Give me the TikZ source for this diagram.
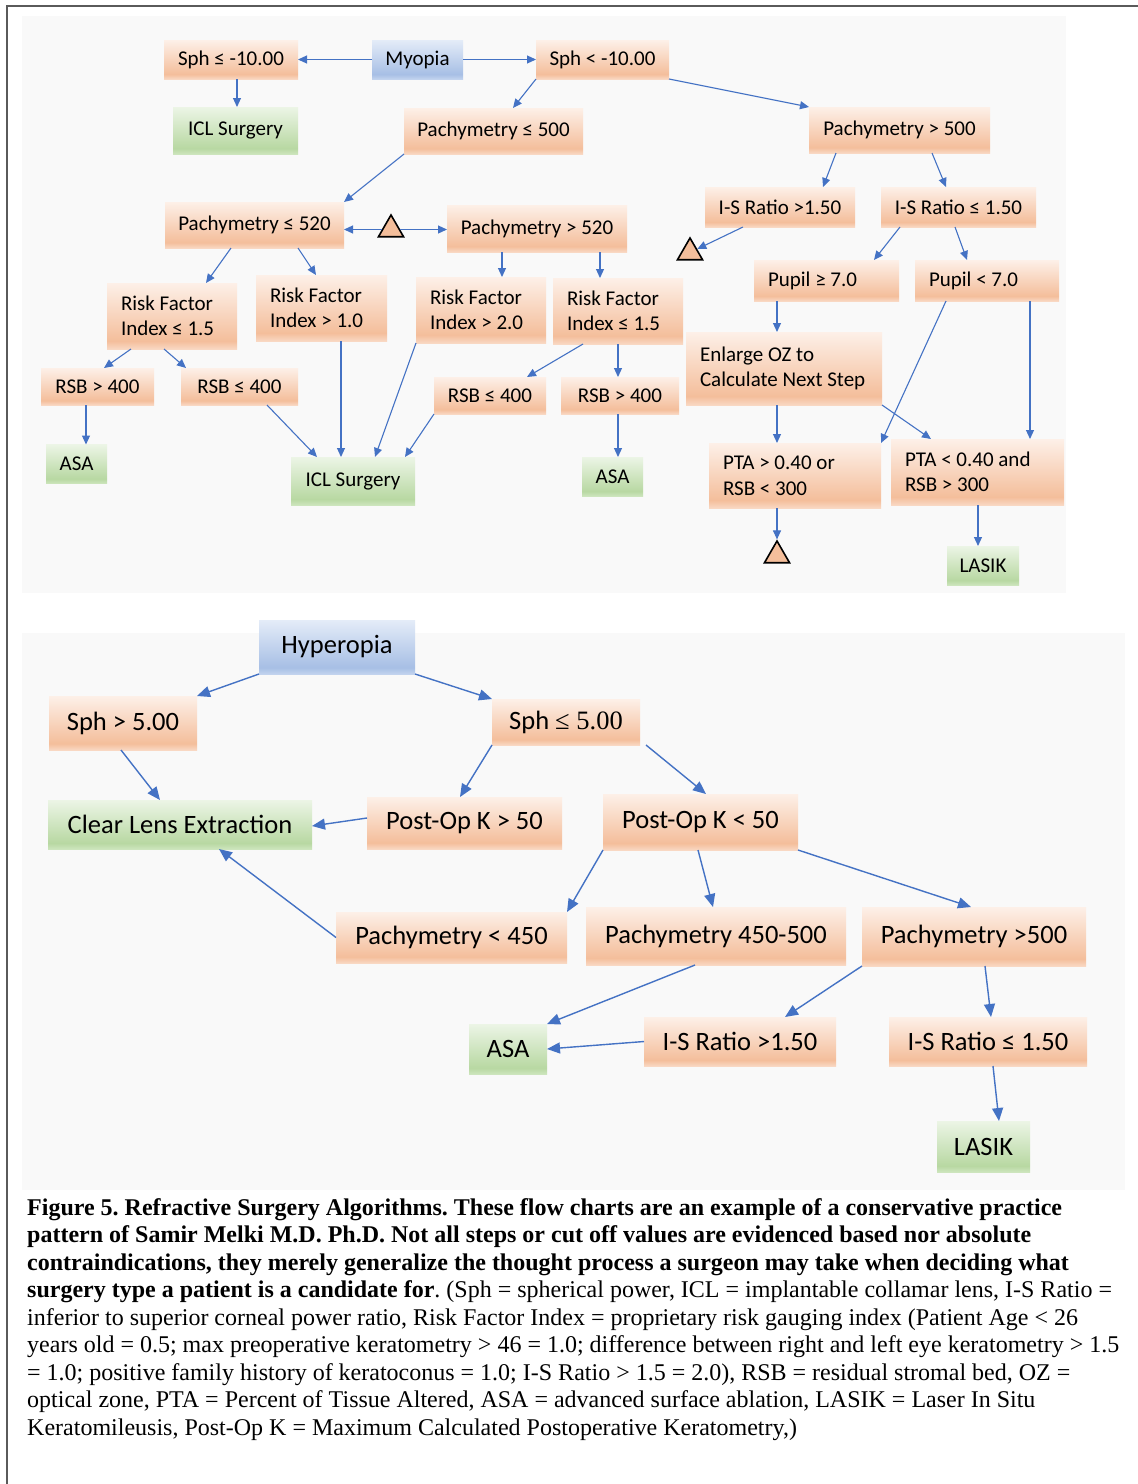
\documentclass[tikz,border=0pt]{standalone}
\usepackage{fontspec}
\setmainfont{Carlito}
\newfontfamily\capfont{Liberation Serif}
\usetikzlibrary{arrows.meta,shapes.geometric}
\newcommand\resetsp{\spaceskip=0pt\xspaceskip=0pt\relax}
\definecolor{arrowblue}{HTML}{4472C4}
\definecolor{orT}{HTML}{FDF0E8}
\definecolor{orM}{HTML}{F4BE9B}
\definecolor{orB}{HTML}{F9D8C3}
\definecolor{grT}{HTML}{ECF5E6}
\definecolor{grM}{HTML}{B8D8A2}
\definecolor{grB}{HTML}{CDE5BD}
\definecolor{blT}{HTML}{E4ECF8}
\definecolor{blM}{HTML}{A7BFE5}
\definecolor{blB}{HTML}{C2D3EE}
\definecolor{panel}{HTML}{F9F9F9}
\definecolor{framegray}{HTML}{5A5A5A}
\pgfdeclareverticalshading{orshade}{100bp}{color(0bp)=(orB); color(25bp)=(orB); color(31bp)=(orM); color(75bp)=(orT); color(100bp)=(orT)}
\pgfdeclareverticalshading{grshade}{100bp}{color(0bp)=(grB); color(25bp)=(grB); color(31bp)=(grM); color(75bp)=(grT); color(100bp)=(grT)}
\pgfdeclareverticalshading{blshade}{100bp}{color(0bp)=(blB); color(25bp)=(blB); color(31bp)=(blM); color(75bp)=(blT); color(100bp)=(blT)}
\tikzset{
  box/.style={inner sep=0pt, outer sep=0pt, text=black},
  my/.style={box, font=\fontsize{21}{25.5}\selectfont},
  hy/.style={box, font=\fontsize{26.5}{31}\selectfont},
  orng/.style={shade, shading=orshade},
  grn/.style={shade, shading=grshade},
  blu/.style={shade, shading=blshade},
  lft/.style={align=left, inner xsep=14pt},
  tri/.style={regular polygon, regular polygon sides=3, minimum size=29pt, inner sep=0pt, draw=black, line width=1.6pt, fill=orM},
  arr/.style={draw=arrowblue, line width=1.1pt, -{Triangle[length=9pt,width=8pt]}},
  harr/.style={draw=arrowblue, line width=1.4pt, -{Triangle[length=13pt,width=11pt]}},
  captext/.style={anchor=base west, inner sep=0pt, font=\capfont\fontsize{24}{27.5}\selectfont\frenchspacing},
}
\begin{document}
\begin{tikzpicture}[x=1pt,y=-1pt]
\useasboundingbox (0,0) rectangle (1138,1484);
\fill[white] (0,0) rectangle (1138,1484);
\draw[framegray, line width=2pt] (1138,6) -- (7,6) -- (7,1484);
\fill[panel] (22,16) rectangle (1066,593);
\fill[panel] (22,633) rectangle (1125,1190);

% ---------- Myopia ----------
\node[my, blu, minimum width=91pt, minimum height=39pt] (myo) at (417.5,59.5) {Myopia};
\node[my, orng, minimum width=134pt, minimum height=39pt] (sphA) at (231,59.5) {Sph ≤ -10.00};
\node[my, orng, minimum width=133pt, minimum height=39pt] (sphB) at (602.5,59.5) {Sph < -10.00};
\node[my, grn, minimum width=125pt, minimum height=47pt] (iclA) at (235.5,130.5) {ICL Surgery};
\node[my, orng, minimum width=179pt, minimum height=46pt] (paA) at (493.5,131) {Pachymetry ≤ 500};
\node[my, orng, minimum width=181pt, minimum height=46pt] (paB) at (899.5,130) {Pachymetry > 500};
\node[my, orng, minimum width=179pt, minimum height=46pt] (pcA) at (254.5,225) {Pachymetry ≤ 520};
\node[my, orng, minimum width=180pt, minimum height=47pt] (pcB) at (537,228.5) {Pachymetry > 520};
\node[my, orng, minimum width=150pt, minimum height=40pt] (isA) at (780,207) {I-S Ratio >1.50};
\node[my, orng, minimum width=155pt, minimum height=40pt] (isB) at (958.5,207) {I-S Ratio ≤ 1.50};
\node[my, orng, lft, text width=117pt, minimum height=41pt] (pupA) at (826.5,280.5) {\resetsp Pupil ≥ 7.0};
\node[my, orng, lft, text width=116pt, minimum height=41pt] (pupB) at (987,280.5) {\resetsp Pupil < 7.0};
\node[my, orng, lft, text width=102pt, minimum height=66pt] (rfA) at (172,316) {\resetsp Risk Factor\\Index ≤ 1.5};
\node[my, orng, lft, text width=103pt, minimum height=66pt] (rfB) at (321.5,308) {\resetsp Risk Factor\\Index > 1.0};
\node[my, orng, lft, text width=102pt, minimum height=66pt] (rfC) at (481,310) {\resetsp Risk Factor\\Index > 2.0};
\node[my, orng, lft, text width=102pt, minimum height=66pt] (rfD) at (618,311) {\resetsp Risk Factor\\Index ≤ 1.5};
\node[my, orng, minimum width=113pt, minimum height=37pt] (rsbA) at (97.5,386.5) {RSB > 400};
\node[my, orng, minimum width=117pt, minimum height=37pt] (rsbB) at (239.5,386.5) {RSB ≤ 400};
\node[my, orng, minimum width=112pt, minimum height=37pt] (rsbC) at (490,395.5) {RSB ≤ 400};
\node[my, orng, minimum width=118pt, minimum height=37pt] (rsbD) at (620,395.5) {RSB > 400};
\node[my, grn, minimum width=61pt, minimum height=39pt] (asaA) at (76.5,464) {ASA};
\node[my, grn, minimum width=124pt, minimum height=48pt] (iclB) at (353,481) {ICL Surgery};
\node[my, grn, minimum width=61pt, minimum height=39pt] (asaB) at (612.5,476.5) {ASA};
\node[my, orng, lft, text width=168pt, minimum height=73pt] (enl) at (784,368.5) {\resetsp Enlarge OZ to\\Calculate Next Step};
\node[my, orng, lft, text width=144pt, minimum height=65pt] (ptaA) at (795,475.5) {\resetsp PTA > 0.40 or\\RSB < 300};
\node[my, orng, lft, text width=145pt, minimum height=66pt] (ptaB) at (977.5,472) {\resetsp PTA < 0.40 and\\RSB > 300};
\node[my, grn, minimum width=72pt, minimum height=39pt] (lasA) at (983,565.5) {LASIK};
\node[tri] (triA) at (391,229.5) {};
\node[tri] (triB) at (690,252.5) {};
\node[tri] (triC) at (777,555.5) {};

\coordinate (tAw) at (triA.west);
\coordinate (tAe) at (triA.east);

\draw[arr] (myo.west) -- (sphA.east);
\draw[arr] (myo.east) -- (sphB.west);
\draw[arr] ([xshift=6pt]sphA.south) -- ([xshift=1.5pt]iclA.north);
\draw[arr] (sphB.south west) -- ([xshift=19.5pt]paA.north);
\draw[arr] (sphB.south east) -- (paB.north west);
\draw[arr] (paA.south west) -- (pcA.north east);
\draw[arr] (tAw) -- (tAw -| pcA.east);
\draw[arr] (tAe) -- (tAe -| pcB.west);
\draw[arr] ([xshift=-63.5pt]paB.south) -- ([xshift=43pt]isA.north);
\draw[arr] ([xshift=32.5pt]paB.south) -- ([xshift=-12.5pt]isB.north);
\draw[arr] ([xshift=-37pt]isA.south) -- (triB);
\draw[arr] ([xshift=-58.5pt]isB.south) -- ([xshift=47.5pt]pupA.north);
\draw[arr] ([xshift=-3.5pt]isB.south) -- ([xshift=-20pt]pupB.north);
\draw[arr] ([xshift=-23.5pt]pcA.south) -- ([xshift=34pt]rfA.north);
\draw[arr] ([xshift=43.5pt]pcA.south) -- ([xshift=-5.5pt]rfB.north);
\draw[arr] ([xshift=-35pt]pcB.south) -- ([xshift=21pt]rfC.north);
\draw[arr] ([xshift=63pt]pcB.south) -- ([xshift=-18pt]rfD.north);
\draw[arr] ([xshift=-41pt]rfA.south) -- ([xshift=6.5pt]rsbA.north);
\draw[arr] ([xshift=-8pt]rfA.south) -- ([xshift=-53.5pt]rsbB.north);
\draw[arr] ([xshift=-11.5pt]rsbA.south) -- ([xshift=9.5pt]asaA.north);
\draw[arr] ([xshift=27.5pt]rsbB.south) -- ([xshift=-36pt]iclB.north);
\draw[arr] ([xshift=19.5pt]rfB.south) -- ([xshift=-12pt]iclB.north);
\draw[arr] (rfC.south west) -- ([xshift=22pt]iclB.north);
\draw[arr] (rsbC.south west) -- ([xshift=52pt]iclB.north);
\draw[arr] ([xshift=-35pt]rfD.south) -- ([xshift=37pt]rsbC.north);
\draw[arr] (rfD.south) -- ([xshift=-2pt]rsbD.north);
\draw[arr] ([xshift=-2pt]rsbD.south) -- ([xshift=5.5pt]asaB.north);
\draw[arr] ([xshift=-49.5pt]pupA.south) -- ([xshift=-7pt]enl.north);
\draw[arr] ([xshift=-7pt]enl.south) -- ([xshift=-18pt]ptaA.north);
\draw[arr] (enl.south east) -- ([xshift=-46.5pt]ptaB.north);
\draw[arr] ([xshift=-41pt]pupB.south) -- (ptaA.north east);
\draw[arr] ([xshift=43pt]pupB.south) -- ([xshift=52.5pt]ptaB.north);
\draw[arr] ([xshift=-18pt]ptaA.south) -- (triC.north);
\draw[arr] ([xshift=0.5pt]ptaB.south) -- ([xshift=-5pt]lasA.north);

% ---------- Hyperopia ----------
\node[hy, blu, minimum width=156pt, minimum height=54pt] (hyp) at (337,647) {Hyperopia};
\node[hy, orng, minimum width=148pt, minimum height=54pt] (sphC) at (123,723) {Sph > 5.00};
\node[hy, orng, minimum width=148pt, minimum height=46pt] (sphD) at (566,722) {Sph {\capfont ≤ 5.00}};
\node[hy, grn, minimum width=264pt, minimum height=49pt] (cle) at (180,824.5) {Clear Lens Extraction};
\node[hy, orng, minimum width=195pt, minimum height=52pt] (pkA) at (464.5,823) {Post-Op K > 50};
\node[hy, orng, minimum width=195pt, minimum height=56pt] (pkB) at (700.5,822) {Post-Op K < 50};
\node[hy, orng, minimum width=231pt, minimum height=51pt] (pdA) at (451.5,937.5) {Pachymetry < 450};
\node[hy, orng, minimum width=260pt, minimum height=58pt] (pdB) at (716,936) {Pachymetry 450-500};
\node[hy, orng, minimum width=224pt, minimum height=59pt] (pdC) at (974,936.5) {Pachymetry >500};
\node[hy, grn, minimum width=78pt, minimum height=50pt] (asaC) at (508,1049) {ASA};
\node[hy, orng, minimum width=192pt, minimum height=49pt] (isC) at (740,1041.5) {I-S Ratio >1.50};
\node[hy, orng, minimum width=198pt, minimum height=49pt] (isD) at (988,1041.5) {I-S Ratio ≤ 1.50};
\node[hy, grn, minimum width=93pt, minimum height=51pt] (lasB) at (983.5,1146.5) {LASIK};

\draw[harr] (hyp.south west) -- (sphC.north east);
\draw[harr] (hyp.south east) -- (sphD.north west);
\draw[harr] ([xshift=-2pt]sphC.south) -- ([xshift=-20pt]cle.north);
\draw[harr] (sphD.south west) -- ([xshift=-4.5pt]pkA.north);
\draw[harr] ([yshift=5pt]pkA.west) -- ([yshift=-1.5pt]cle.east);
\draw[harr] ([xshift=80pt]sphD.south) -- ([xshift=5.5pt]pkB.north);
\draw[harr] (pkB.south west) -- (pdA.north east);
\draw[harr] ([xshift=-2.5pt]pkB.south) -- ([xshift=-3pt]pdB.north);
\draw[harr] (pkB.south east) -- ([xshift=-3pt]pdC.north);
\draw[harr] (pdA.west) -- ([xshift=39pt]cle.south);
\draw[harr] ([xshift=-21pt]pdB.south) -- (asaC.north east);
\draw[harr] (isC.west) -- (asaC.east);
\draw[harr] (pdC.south west) -- ([xshift=45pt]isC.north);
\draw[harr] ([xshift=11pt]pdC.south) -- ([xshift=3pt]isD.north);
\draw[harr] ([xshift=5pt]isD.south) -- ([xshift=15.5pt]lasB.north);

% ---------- Caption ----------
\node[captext] (c1) at (27,1215) {\bfseries Figure 5. Refractive Surgery Algorithms. These flow charts are an example of a conservative practice};
\node[captext] (c2) at (27,1242.5) {\bfseries pattern of Samir Melki M.D. Ph.D. Not all steps or cut off values are evidenced based nor absolute};
\node[captext] (c3) at (27,1270) {\bfseries contraindications, they merely generalize the thought process a surgeon may take when deciding what};
\node[captext] (c4) at (27,1297.5) {\textbf{surgery type a patient is a candidate for}. (Sph = spherical power, ICL = implantable collamar lens, I-S Ratio =};
\node[captext] (c5) at (27,1325) {inferior to superior corneal power ratio, Risk Factor Index = proprietary risk gauging index (Patient Age < 26};
\node[captext] (c6) at (27,1352.5) {years old = 0.5; max preoperative keratometry > 46 = 1.0; difference between right and left eye keratometry > 1.5};
\node[captext] (c7) at (27,1380) {= 1.0; positive family history of keratoconus = 1.0; I-S Ratio > 1.5 = 2.0), RSB = residual stromal bed, OZ =};
\node[captext] (c8) at (27,1407.5) {optical zone, PTA = Percent of Tissue Altered, ASA = advanced surface ablation, LASIK = Laser In Situ};
\node[captext] (c9) at (27,1435) {Keratomileusis, Post-Op K = Maximum Calculated Postoperative Keratometry,)};
\end{tikzpicture}
\end{document}
